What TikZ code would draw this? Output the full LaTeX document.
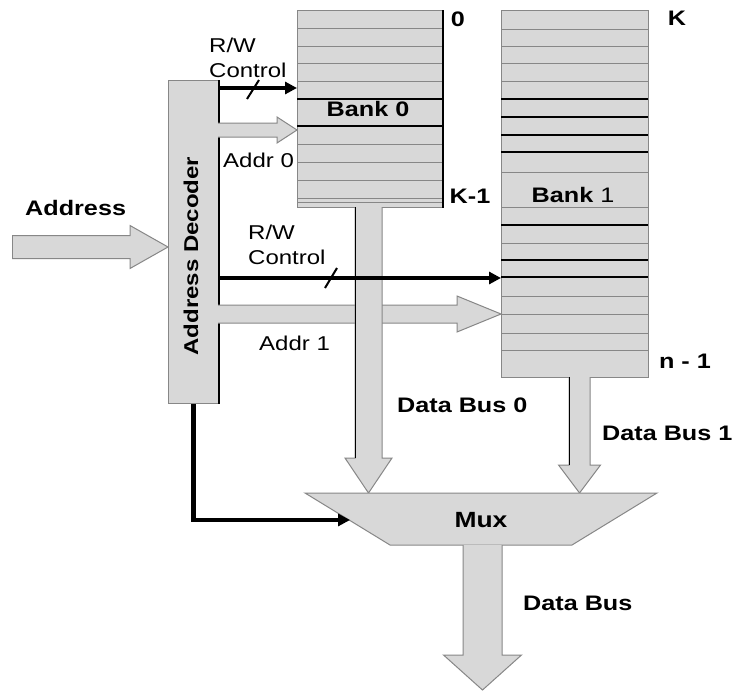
\documentclass[tikz,border=0pt]{standalone}
\usepackage{fontspec}
\setmainfont{Liberation Sans}[FakeStretch=1.2]
\usetikzlibrary{arrows.meta}
\definecolor{fillg}{RGB}{216,216,216}
\definecolor{edgeg}{RGB}{135,135,135}
\newcommand\rblock[6]{% x1 x2 yc shafthalf headhalf headlen
  \fill[fillg] (#1,#3-#4) -- (#2-#6,#3-#4) -- (#2-#6,#3-#5) -- (#2,#3) -- (#2-#6,#3+#5) -- (#2-#6,#3+#4) -- (#1,#3+#4) -- cycle;
  \draw[badraw] (#1,#3-#4) -- (#2-#6,#3-#4) -- (#2-#6,#3-#5) -- (#2,#3) -- (#2-#6,#3+#5) -- (#2-#6,#3+#4) -- (#1,#3+#4);}
\newcommand\dblock[6]{% y1 y2 xc shafthalf headhalf headlen
  \fill[fillg] (#3-#4,#1) -- (#3-#4,#2-#6) -- (#3-#5,#2-#6) -- (#3,#2) -- (#3+#5,#2-#6) -- (#3+#4,#2-#6) -- (#3+#4,#1) -- cycle;
  \draw[badraw] (#3-#4,#1) -- (#3-#4,#2-#6) -- (#3-#5,#2-#6) -- (#3,#2) -- (#3+#5,#2-#6) -- (#3+#4,#2-#6) -- (#3+#4,#1);}
\begin{document}
\begin{tikzpicture}[x=1pt,y=-1pt,
  lbl/.style={inner sep=0pt, font=\fontsize{20}{24}\selectfont},
  blbl/.style={inner sep=0pt, font=\fontsize{21}{24}\selectfont\bfseries},
  box/.style={draw=edgeg, fill=fillg, line width=1pt, inner sep=0pt},
  rowg/.style={draw=edgeg, line width=1pt},
  rowb/.style={draw=black, line width=1.2pt},
  ctl/.style={line width=4.3pt, -{Triangle[length=12pt,width=12pt]}},
  slash/.style={line width=2pt},
  badraw/.style={draw=edgeg, line width=1pt, line join=miter}]
\useasboundingbox (0,0) rectangle (734,691);
\fill[white] (0,0) rectangle (734,691);

% address input
\rblock{12}{168}{247}{11.5}{21.5}{38}
\draw[badraw] (12,235.5) -- (12,258.5);

% address decoder
\node[box, minimum width=50pt, minimum height=323pt, anchor=north west] (dec) at (168,80) {};
\draw[line width=1.3pt] (dec.north east) -- (dec.south east);
\node[inner sep=0pt, font=\fontsize{20}{24}\selectfont\bfseries, rotate=90] (declbl) at (191,256) {Address Decoder};

% bank 0
\node[box, minimum width=145pt, minimum height=197pt, anchor=north west] (bank0) at (297,10) {};
\foreach \y in {28,46,63,81,144,162,180,198,202} \draw[rowg] (297,\y) -- (442,\y);
\foreach \y in {99,126} \draw[rowb] (297,\y) -- (442,\y);
\draw[line width=1.3pt] (bank0.north east) -- (bank0.south east);
\node[blbl] (b0lbl) at (368,109) {Bank 0};

% bank 1
\node[box, minimum width=147pt, minimum height=367pt, anchor=north west] (bank1) at (501,10) {};
\foreach \y in {29,46,63,81,172,207,243,296,314,333,350} \draw[rowg] (501,\y) -- (648,\y);
\foreach \y in {99,117,135,152,225,260,277} \draw[rowb] (501,\y) -- (648,\y);
\node[blbl] (b1lbl) at (573,195) {Bank \textmd{1}};

% addr 0 and R/W 0
\rblock{218}{297}{130}{7}{13}{20}
\coordinate (rw0s) at (218,88);
\coordinate (rw0e) at (297,88);
\draw[ctl] (rw0s) -- (rw0e);
\draw[slash] (247,99) -- (259,80);

% addr 1
\rblock{218}{501}{314}{9}{18}{44}

% data bus 0
\dblock{207}{493}{368.5}{13.5}{23.5}{35}
\draw[line width=1pt] (355,207) -- (355,458);

% R/W 1
\coordinate (rw1s) at (218,278);
\coordinate (rw1e) at (501,278);
\draw[ctl] (rw1s) -- (rw1e);
\draw[slash] (325,288) -- (337,268);

% data bus 1
\dblock{377}{493}{579.5}{10.5}{21}{28}
\draw[line width=1pt] (569,377) -- (569,465);

% mux
\draw[badraw, fill=fillg] (305,493) -- (657,493) -- (572,545) -- (390,545) -- cycle;
\node[inner sep=0pt, font=\fontsize{22}{26}\selectfont\bfseries] (mux) at (481,520) {Mux};

% output data bus
\dblock{545}{690}{482.5}{19.5}{39}{35}

% mux select
\coordinate (muxsel) at (350,520);
\draw[ctl] (dec.south) |- (muxsel);

% labels
\node[lbl, anchor=west] (rwl0a) at (209,45) {R/W};
\node[lbl, anchor=west] (rwl0b) at (209,70) {Control};
\node[lbl, anchor=west] (a0l) at (223,160) {Addr 0};
\node[lbl, anchor=west] (rwl1a) at (248,232) {R/W};
\node[lbl, anchor=west] (rwl1b) at (248,257) {Control};
\node[lbl, anchor=west] (a1l) at (259,343) {Addr 1};
\node[blbl, anchor=west] (adl) at (25,208) {Address};
\node[blbl, anchor=west] (db0l) at (397,405) {Data Bus 0};
\node[blbl, anchor=west] (db1l) at (602,433) {Data Bus 1};
\node[blbl, anchor=west] (dbl) at (523,603) {Data Bus};
\node[blbl] (l0) at (458,19) {0};
\node[blbl] (lk) at (677,18) {K};
\node[blbl] (lk1) at (470,196) {K-1};
\node[blbl] (ln1) at (685,361) {n - 1};
\end{tikzpicture}
\end{document}
